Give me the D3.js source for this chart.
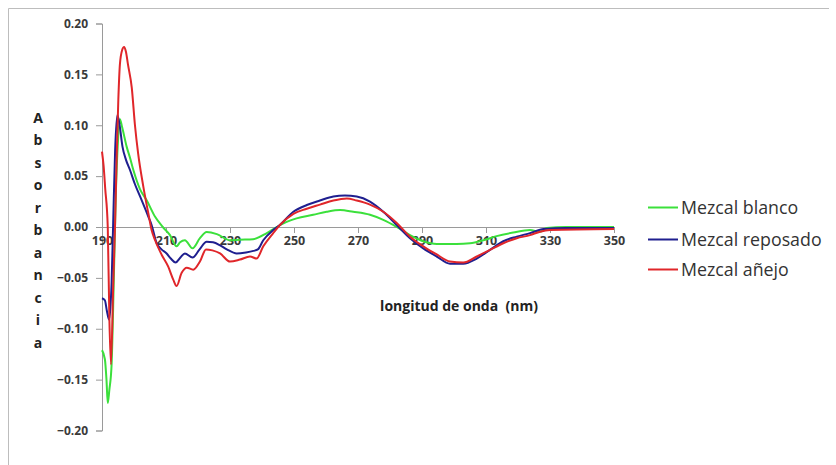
<!DOCTYPE html>
<html>
<head>
<meta charset="utf-8">
<script src="https://cdn.jsdelivr.net/npm/d3@7"></script>
<style>
  html, body { margin: 0; padding: 0; background: #fff; }
  svg { display: block; }
</style>
</head>
<body>
<svg id="chart" width="836" height="465"></svg>
<script>
// Wavelengths (nm) and absorbance for each mezcal sample
const blancoNm = [190, 190.9, 191.4, 191.8, 192.3, 193.0, 193.7, 194.3, 195.0, 195.6, 196.3, 197.7, 198.75, 199.8, 201.9, 204, 206.6, 209, 211.25, 213.3, 214.4, 215.9, 218.3, 220.6, 222.7, 225.9, 230, 233.1, 237.2, 241.5, 244.6, 247.7, 250.8, 256, 260.2, 264.4, 268.5, 273.75, 277.9, 282.1, 286.25, 290.4, 294.6, 300.8, 305, 309.2, 313.3, 318.5, 323.75, 326.9, 329, 335, 350];
const blancoAbs = [-0.121, -0.130, -0.150, -0.173, -0.160, -0.135, -0.05, 0.03, 0.085, 0.106, 0.098, 0.079, 0.068, 0.056, 0.037, 0.026, 0.010, 0.0, -0.008, -0.019, -0.015, -0.013, -0.021, -0.011, -0.005, -0.007, -0.013, -0.0125, -0.012, -0.006, 0.0, 0.005, 0.0085, 0.012, 0.015, 0.0167, 0.015, 0.012, 0.007, 0.0, -0.008, -0.014, -0.0167, -0.0167, -0.016, -0.013, -0.009, -0.0055, -0.003, -0.0046, -0.001, 0.0, 0.0];

const reposadoNm = [190, 190.9, 191.5, 192.2, 192.6, 193.0, 193.5, 194.1, 194.8, 195.5, 196.4, 197.5, 198.75, 200.3, 201.9, 204.5, 205.5, 207.1, 208.6, 210.2, 211.5, 213, 214.5, 215.9, 218.3, 220.5, 222.7, 224.7, 226.9, 229, 232.1, 235, 237.3, 238.7, 240.4, 243.5, 245.6, 249.8, 254, 258.1, 262.3, 265.9, 269.6, 273.75, 277.9, 282.1, 286.25, 290.4, 294.6, 298.75, 302.9, 307.1, 311.25, 315.4, 319.6, 323.75, 328, 335, 350];
const reposadoAbs = [-0.070, -0.072, -0.082, -0.091, -0.080, -0.055, 0.005, 0.075, 0.110, 0.100, 0.079, 0.066, 0.056, 0.042, 0.030, 0.010, 0.002, -0.016, -0.022, -0.026, -0.031, -0.035, -0.030, -0.026, -0.030, -0.022, -0.0144, -0.015, -0.018, -0.022, -0.026, -0.025, -0.0235, -0.022, -0.013, -0.003, 0.002, 0.015, 0.0216, 0.026, 0.030, 0.031, 0.030, 0.025, 0.015, 0.002, -0.011, -0.021, -0.029, -0.036, -0.036, -0.031, -0.0225, -0.014, -0.0095, -0.006, -0.002, -0.001, -0.001];

const anejoNm = [190, 190.5, 191, 191.8, 192.3, 192.8, 193.5, 194.1, 194.6, 195.1, 195.6, 196.3, 196.9, 197.5, 198.1, 199.3, 200.3, 201.3, 202.9, 204.5, 205.5, 206.6, 208.6, 210.7, 212.3, 213.3, 214.9, 216.5, 218.5, 220.6, 222.5, 224.5, 226.9, 230, 233.1, 236.25, 238.3, 240.4, 243.5, 245.6, 249.8, 254, 258.1, 262.3, 266.5, 269.6, 273.75, 277.9, 282.1, 286.25, 290.4, 294.6, 298.75, 302.9, 307.1, 311.25, 315.4, 319.6, 323.75, 326.9, 330, 350];
const anejoAbs = [0.074, 0.060, 0.038, 0.0, -0.09, -0.135, -0.058, 0.005, 0.07, 0.125, 0.160, 0.174, 0.177, 0.172, 0.160, 0.137, 0.100, 0.072, 0.040, 0.013, -0.003, -0.013, -0.027, -0.039, -0.052, -0.058, -0.045, -0.040, -0.042, -0.034, -0.022, -0.023, -0.026, -0.034, -0.032, -0.029, -0.031, -0.019, -0.006, 0.002, 0.013, 0.018, 0.022, 0.026, 0.028, 0.026, 0.022, 0.015, 0.004, -0.0095, -0.019, -0.027, -0.034, -0.035, -0.029, -0.0225, -0.016, -0.011, -0.008, -0.0046, -0.003, -0.002];

const seriesNames = ["Mezcal blanco", "Mezcal reposado", "Mezcal añejo"];
const seriesColors = ["#3be03b", "#1f1f8f", "#e0262a"];
const xTicks = [190, 210, 230, 250, 270, 290, 310, 330, 350];
const yTicks = [0.20, 0.15, 0.10, 0.05, 0.00, -0.05, -0.10, -0.15, -0.20];
const yTitle = "Absorbancia";
const xTitle = "longitud de onda  (nm)";

const series = [
  { name: seriesNames[0], color: seriesColors[0], pts: d3.zip(blancoNm, blancoAbs) },
  { name: seriesNames[1], color: seriesColors[1], pts: d3.zip(reposadoNm, reposadoAbs) },
  { name: seriesNames[2], color: seriesColors[2], pts: d3.zip(anejoNm, anejoAbs) }
];

const svg = d3.select("#chart");
const FONT = "'Open Sans', 'Liberation Sans', sans-serif";

// frame of the chart area
svg.append("path")
  .attr("d", "M8.5,465 L8.5,8.5 L829,8.5")
  .attr("fill", "none").attr("stroke", "#bdbdbd").attr("stroke-width", 1);

const x = d3.scaleLinear().domain([190, 350]).range([102, 614]);
const y = d3.scaleLinear().domain([-0.2, 0.2]).range([430.5, 23.5]);

// y axis
const yAxis = svg.append("g")
  .attr("transform", `translate(${x(190)},0)`)
  .call(d3.axisLeft(y).tickValues(yTicks).tickFormat(d3.format(".2f")).tickSize(6).tickPadding(8));
yAxis.select(".domain").attr("stroke", "#9a9a9a");
yAxis.selectAll(".tick line").attr("stroke", "#9a9a9a");
yAxis.selectAll("text")
  .attr("font-family", FONT).attr("font-size", 12).attr("font-weight", "bold").attr("fill", "#3a3a3a");

// x axis along zero absorbance
const xAxis = svg.append("g")
  .attr("transform", `translate(0,${y(0)})`)
  .call(d3.axisBottom(x).tickValues(xTicks).tickFormat(d3.format("d")).tickSize(6).tickSizeOuter(0).tickPadding(3));
xAxis.select(".domain").attr("stroke", "#9a9a9a");
xAxis.selectAll(".tick line").attr("stroke", "#9a9a9a");
xAxis.selectAll("text")
  .attr("font-family", FONT).attr("font-size", 12.5).attr("font-weight", "bold").attr("fill", "#3a3a3a");

// spectra
const line = d3.line()
  .x(d => x(d[0]))
  .y(d => y(d[1]))
  .curve(d3.curveMonotoneX);

svg.append("g").selectAll("path")
  .data(series)
  .join("path")
  .attr("d", d => line(d.pts))
  .attr("fill", "none")
  .attr("stroke", d => d.color)
  .attr("stroke-width", 2)
  .attr("stroke-linejoin", "round");

// vertical y title, one letter per row
svg.append("g").selectAll("text")
  .data(yTitle.split(""))
  .join("text")
  .attr("x", 38)
  .attr("y", (d, i) => 118 + i * 22.5)
  .attr("dy", "0.35em")
  .attr("text-anchor", "middle")
  .attr("font-family", FONT).attr("font-size", 14).attr("font-weight", "bold")
  .attr("fill", "#222")
  .text(d => d);

// x title (keeps its double space)
svg.append("text")
  .attr("x", 459).attr("y", 306).attr("dy", "0.35em")
  .attr("text-anchor", "middle")
  .style("white-space", "pre")
  .attr("font-family", FONT).attr("font-size", 14).attr("font-weight", "bold")
  .attr("fill", "#222")
  .text(xTitle);

// legend
const legend = svg.append("g").selectAll("g")
  .data(series)
  .join("g")
  .attr("transform", (d, i) => `translate(648,${[207.5, 239.5, 269.5][i]})`);
legend.append("line")
  .attr("x1", 0).attr("x2", 30)
  .attr("stroke", d => d.color).attr("stroke-width", 2);
legend.append("text")
  .attr("x", 33).attr("dy", "0.35em")
  .attr("font-family", FONT).attr("font-size", 17.8)
  .attr("fill", "#333")
  .text(d => d.name);
</script>
</body>
</html>
